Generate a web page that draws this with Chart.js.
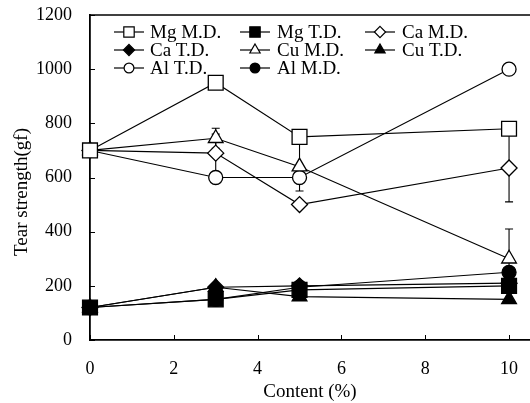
<!DOCTYPE html>
<html>
<head>
<meta charset="utf-8">
<script src="https://cdn.jsdelivr.net/npm/chart.js@4/dist/chart.umd.min.js"></script>
<style>
  html, body { margin: 0; padding: 0; background: #fff; }
  #wrap { width: 530px; height: 403px; position: relative; }
</style>
</head>
<body>
<div id="wrap"><canvas id="tear"></canvas></div>
<script>
// additive content (%)
const contents = [0, 3, 5, 10];

// tear strength (gf), machine direction (M.D.) and transverse direction (T.D.)
const mgMD = [700, 950, 750, 780];
const mgTD = [120, 150, 185, 200];
const caMD = [700, 690, 500, 635];
const caTD = [120, 195, 200, 210];
const cuMD = [700, 745, 640, 300];
const cuTD = [120, 195, 160, 150];
const alTD = [700, 600, 600, 1000];
const alMD = [120, 150, 195, 250];

// standard deviations where shown
const caMDErr = [0, 70, 0, 125];
const cuMDErr = [0, 37, 90, 110];

const xTicks = [0, 2, 4, 6, 8, 10];
const yTicks = [0, 200, 400, 600, 800, 1000, 1200];

const FONT = "'Liberation Serif', 'DejaVu Serif', serif";

const toPoints = (ys) => contents.map((x, i) => ({ x, y: ys[i] }));

function series(label, ys, style, filled, radius, err) {
  return {
    label,
    data: toPoints(ys),
    err: err || null,
    borderColor: '#000',
    borderWidth: 1.1,
    pointStyle: style,
    pointRadius: radius,
    pointHoverRadius: radius,
    pointBorderWidth: 1.3,
    pointBorderColor: '#000',
    pointBackgroundColor: filled ? '#000' : '#fff',
    legendRadius: radius * 0.7,
    tension: 0,
    fill: false,
    clip: false,
  };
}

const datasets = [
  series('Mg M.D.', mgMD, 'rect', false, 10.5),
  series('Mg T.D.', mgTD, 'rect', true, 10.5),
  series('Ca M.D.', caMD, 'rectRot', false, 8, caMDErr),
  series('Ca T.D.', caTD, 'rectRot', true, 8),
  series('Cu M.D.', cuMD, 'triangle', false, 8.5, cuMDErr),
  series('Cu T.D.', cuTD, 'triangle', true, 8.5),
  series('Al T.D.', alTD, 'circle', false, 7),
  series('Al M.D.', alMD, 'circle', true, 7),
];

// error bars, drawn under the markers
const errorBars = {
  id: 'errorBars',
  beforeDatasetsDraw(chart) {
    const { ctx, scales: { x, y } } = chart;
    ctx.save();
    ctx.strokeStyle = '#000';
    ctx.lineWidth = 1.1;
    chart.data.datasets.forEach((ds) => {
      if (!ds.err) return;
      ds.data.forEach((p, i) => {
        const e = ds.err[i];
        if (!e) return;
        const px = x.getPixelForValue(p.x);
        const top = y.getPixelForValue(p.y + e);
        const bot = y.getPixelForValue(p.y - e);
        ctx.beginPath();
        ctx.moveTo(px, top); ctx.lineTo(px, bot);
        ctx.moveTo(px - 4, top); ctx.lineTo(px + 4, top);
        ctx.moveTo(px - 4, bot); ctx.lineTo(px + 4, bot);
        ctx.stroke();
      });
    });
    ctx.restore();
  }
};

function drawMarker(ctx, style, cx, cy, r, filled) {
  ctx.beginPath();
  if (style === 'rect') {
    const s = r * Math.SQRT1_2;
    ctx.rect(cx - s, cy - s, 2 * s, 2 * s);
  } else if (style === 'rectRot') {
    ctx.moveTo(cx, cy - r); ctx.lineTo(cx + r, cy);
    ctx.lineTo(cx, cy + r); ctx.lineTo(cx - r, cy);
    ctx.closePath();
  } else if (style === 'triangle') {
    for (let k = 0; k < 3; k++) {
      const a = k * 2 * Math.PI / 3;
      const fx = cx + Math.sin(a) * r, fy = cy - Math.cos(a) * r;
      if (k === 0) ctx.moveTo(fx, fy); else ctx.lineTo(fx, fy);
    }
    ctx.closePath();
  } else {
    ctx.arc(cx, cy, r, 0, Math.PI * 2);
  }
  ctx.fillStyle = filled ? '#000' : '#fff';
  ctx.fill();
  ctx.stroke();
}

// legend inside the plot, three columns
const legendGrid = {
  id: 'legendGrid',
  afterDraw(chart) {
    const { ctx } = chart;
    const colLine = [114, 240, 365];
    const colText = [150, 277, 402];
    const rowY = [32, 50, 68];
    ctx.save();
    ctx.strokeStyle = '#000';
    ctx.lineWidth = 1.2;
    ctx.font = '19px ' + FONT;
    ctx.textBaseline = 'middle';
    ctx.fillStyle = '#000';
    chart.data.datasets.forEach((ds, i) => {
      const col = i % 3, row = Math.floor(i / 3);
      const x0 = colLine[col], y0 = rowY[row];
      ctx.beginPath();
      ctx.moveTo(x0, y0); ctx.lineTo(x0 + 30, y0);
      ctx.stroke();
      drawMarker(ctx, ds.pointStyle, x0 + 15, y0, ds.legendRadius, ds.pointBackgroundColor === '#000');
      ctx.fillStyle = '#000';
      ctx.fillText(ds.label, colText[col], y0 + 1);
    });
    ctx.restore();
  }
};

// frame top line, inward tick marks, y title
const frame = {
  id: 'frame',
  afterDraw(chart) {
    const { ctx, chartArea: a, scales: { x, y } } = chart;
    ctx.save();
    ctx.strokeStyle = '#000';
    ctx.lineWidth = 1.6;
    ctx.beginPath();
    ctx.moveTo(a.left, a.top); ctx.lineTo(a.right, a.top);
    ctx.stroke();
    ctx.lineWidth = 1;
    ctx.beginPath();
    xTicks.forEach((v) => {
      const px = Math.round(x.getPixelForValue(v)) + 0.5;
      ctx.moveTo(px, a.bottom); ctx.lineTo(px, a.bottom - 5);
    });
    yTicks.forEach((v) => {
      const py = Math.round(y.getPixelForValue(v)) + 0.5;
      ctx.moveTo(a.left, py); ctx.lineTo(a.left + 5, py);
    });
    ctx.stroke();
    ctx.translate(22, 192);
    ctx.rotate(-Math.PI / 2);
    ctx.font = '19px ' + FONT;
    ctx.fillStyle = '#000';
    ctx.textAlign = 'center';
    ctx.textBaseline = 'middle';
    ctx.fillText('Tear strength(gf)', 0, 0);
    ctx.restore();
  }
};

new Chart(document.getElementById('tear'), {
  type: 'line',
  data: { datasets },
  options: {
    responsive: true,
    maintainAspectRatio: false,
    animation: false,
    layout: { autoPadding: false, padding: { top: 15, right: 0, left: 0, bottom: 0 } },
    plugins: {
      legend: { display: false },
      tooltip: { enabled: false },
    },
    scales: {
      x: {
        type: 'linear',
        min: 0,
        max: 10.5,
        afterBuildTicks: (s) => { s.ticks = xTicks.map((v) => ({ value: v })); },
        afterFit: (s) => { s.height = 63; s.paddingLeft = 0; s.paddingRight = 0; },
        grid: { display: true, drawOnChartArea: false, drawTicks: false },
        border: { color: '#000', width: 1.8 },
        ticks: { color: '#000', padding: 18, maxRotation: 0, font: { family: FONT, size: 18 } },
        title: {
          display: true,
          text: 'Content (%)',
          color: '#000',
          font: { family: FONT, size: 19 },
          padding: { top: 0, bottom: 0 },
        },
      },
      y: {
        min: 0,
        max: 1200,
        afterBuildTicks: (s) => { s.ticks = yTicks.map((v) => ({ value: v })); },
        afterFit: (s) => { s.width = 90; s.paddingTop = 0; s.paddingBottom = 0; },
        grid: { display: true, drawOnChartArea: false, drawTicks: false },
        border: { color: '#000', width: 1.8 },
        ticks: {
          color: '#000',
          padding: 18,
          font: { family: FONT, size: 18 },
          callback: (v) => String(v),
        },
      },
    },
  },
  plugins: [errorBars, legendGrid, frame],
});
</script>
</body>
</html>
